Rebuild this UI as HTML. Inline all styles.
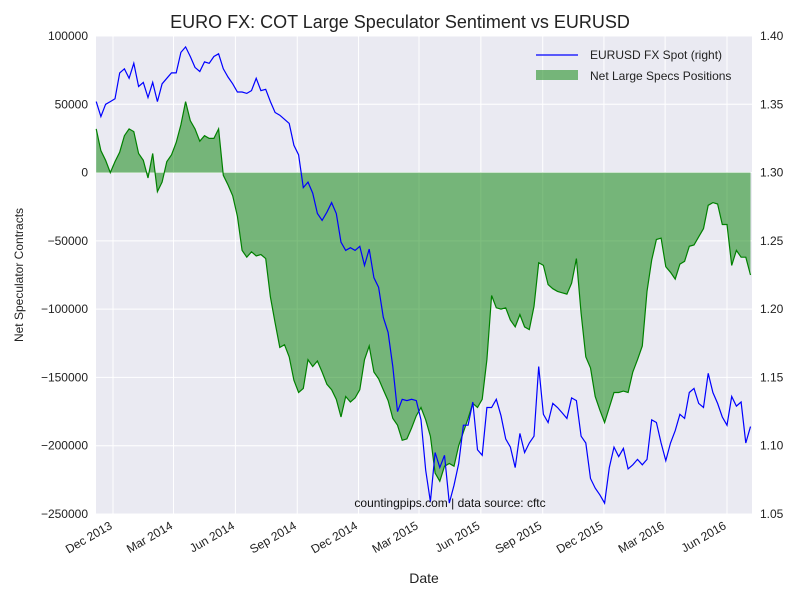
<!DOCTYPE html>
<html><head><meta charset="utf-8"><style>
body{margin:0;background:#fff;}
svg text{font-family:"Liberation Sans",sans-serif;}
</style></head><body>
<svg id="c" width="800" height="600" xmlns="http://www.w3.org/2000/svg"></svg>
<script>
const startDate = "2013-11-06";
const positions = [32,16,9,0,8,15,27,32,30,14,9,-4,14,-14,-7,8,13,22,35,52,38,32,23,27,25,25,32,-2,-9,-17,-32,-57,-62,-58,-61,-60,-63,-91,-110,-128,-126,-135,-152,-161,-158,
-137,-142,-138,-146,-155,-159,-166,-179,-164,-168,-165,-159,-137,-127,-146,-151,-159,-167,-180,-185,-196,-195,-187,-178,-172,-181,-193,-220,-226,-215,-213,-215,-200,-190,-180,-169,-172,-166,-137,-90,-99,-100,-99,-108,-113,-104,-113,-115,-98,-66,-68,-82,-85,-87,-88,-89,-81,-63,-103,-135,-143,-164,-174,-183,-172,-161,-161,-160,-161,-146,-137,-127,-87,-64,-49,-48,-69,-73,-78,-67,-65,-54,-53,-47,-41,-24,-22,-23,-38,-38,-68,-57,-62,-62,-75];
const eurusd = [1.352,1.341,1.350,1.352,1.354,1.373,1.376,1.369,1.380,1.363,1.366,1.355,1.366,1.352,1.365,1.369,1.373,1.373,1.388,1.392,1.385,1.377,1.374,1.381,1.380,1.385,1.387,1.376,1.370,1.365,1.359,1.359,1.358,1.360,1.369,1.360,1.361,1.352,1.344,1.342,1.339,1.336,1.320,1.313,1.289,
1.293,1.285,1.270,1.265,1.271,1.278,1.270,1.249,1.243,1.245,1.243,1.246,1.232,1.244,1.223,1.216,1.194,1.183,1.158,1.125,1.134,1.133,1.134,1.133,1.119,1.082,1.059,1.095,1.084,1.093,1.058,1.071,1.087,1.115,1.115,1.132,1.097,1.093,1.128,1.128,1.134,1.122,1.105,1.099,1.084,1.109,1.095,1.102,1.107,1.158,1.123,1.117,1.131,1.128,1.124,1.120,1.135,1.133,1.107,1.102,1.076,1.069,1.064,1.058,1.084,1.099,1.092,1.098,1.083,1.086,1.090,1.086,1.090,1.119,1.117,1.102,1.089,1.102,1.111,1.123,1.120,1.139,1.142,1.131,1.128,1.153,1.139,1.131,1.121,1.115,1.136,1.129,1.132,1.102,1.114];
const leftTicks = [100000,50000,0,-50000,-100000,-150000,-200000,-250000];
const rightTicks = [1.40,1.35,1.30,1.25,1.20,1.15,1.10,1.05];
const xTickDates = ["2013-12-01","2014-03-01","2014-06-01","2014-09-01","2014-12-01","2015-03-01","2015-06-01","2015-09-01","2015-12-01","2016-03-01","2016-06-01"];
const xTickLabels = ["Dec 2013","Mar 2014","Jun 2014","Sep 2014","Dec 2014","Mar 2015","Jun 2015","Sep 2015","Dec 2015","Mar 2016","Jun 2016"];

const L=96,R=752,T=36,B=514;
const DAY=86400000, ref=Date.UTC(2013,11,1);
function dms(s){const p=s.split('-');return Date.UTC(+p[0],+p[1]-1,+p[2]);}
function xs(ms){return 113+(ms-ref)/DAY*0.6725;}
function yl(v){return T+(100000-v)/350000*(B-T);}
function yr(v){return T+(1.40-v)/0.35*(B-T);}
const s0=dms(startDate);
function xi(i){return xs(s0+i*7*DAY);}
const svg=document.getElementById('c');const NS="http://www.w3.org/2000/svg";
function el(t,a,p){const e=document.createElementNS(NS,t);for(const k in a)e.setAttribute(k,a[k]);(p||svg).appendChild(e);return e;}
el('rect',{x:L,y:T,width:R-L,height:B-T,fill:'#EAEAF2'});
xTickDates.forEach((d,i)=>{const x=xs(dms(d));
 const g=el('line',{x1:x,x2:x,y1:T,y2:B,stroke:'#fff','stroke-width':1});
 
 const t=el('text',{x:x,y:528,'font-size':12,'text-anchor':'end',transform:`rotate(-30 ${x} 528)`,fill:'#222'});t.textContent=xTickLabels[i];
 });
leftTicks.forEach(v=>{const y=yl(v);
 const g=el('line',{x1:L,x2:R,y1:y,y2:y,stroke:'#fff','stroke-width':1});
 
 const t=el('text',{x:88,y:y+4,'font-size':12,'text-anchor':'end',fill:'#222'});t.textContent=v===0?'0':(v<0?'\u2212'+(-v):String(v));
 });
rightTicks.forEach(v=>{const y=yr(v);
 const t=el('text',{x:760,y:y+4,'font-size':12,fill:'#222'});t.textContent=v.toFixed(2);
 });
// area
let d='M'+xi(0)+','+yl(0);
positions.forEach((v,i)=>{d+=' L'+xi(i).toFixed(1)+','+yl(v*1000).toFixed(1);});
d+=' L'+xi(positions.length-1)+','+yl(0)+' Z';
const a=el('path',{d:d,fill:'#008000','fill-opacity':0.5,stroke:'none'});

const gl=el('polyline',{points:positions.map((v,i)=>xi(i).toFixed(1)+','+yl(v*1000).toFixed(1)).join(' '),fill:'none',stroke:'#008000','stroke-width':1.2});

const bl=el('polyline',{points:eurusd.map((v,i)=>xi(i).toFixed(1)+','+yr(v).toFixed(1)).join(' '),fill:'none',stroke:'#0000FF','stroke-width':1.2});

</script>
<svg width="800" height="600" style="position:absolute;left:0;top:0">
<text x="400" y="28" font-size="18" text-anchor="middle" fill="#222">EURO FX: COT Large Speculator Sentiment vs EURUSD</text>
<text x="424" y="583" font-size="14" text-anchor="middle" fill="#222">Date</text>
<text x="23" y="275" font-size="12" text-anchor="middle" fill="#222" transform="rotate(-90 23 275)">Net Speculator Contracts</text>
<text x="450" y="507" font-size="12" text-anchor="middle" fill="#111">countingpips.com | data source: cftc</text>
<g>
<line x1="536" y1="55" x2="578" y2="55" stroke="#0000FF" stroke-width="1.2"/>
<text x="590" y="59" font-size="12" fill="#222">EURUSD FX Spot (right)</text>
<rect x="536" y="70" width="42" height="10" fill="#008000" fill-opacity="0.5"/>
<text x="590" y="80" font-size="12" fill="#222">Net Large Specs Positions</text>
</g>
</svg>
</body></html>
